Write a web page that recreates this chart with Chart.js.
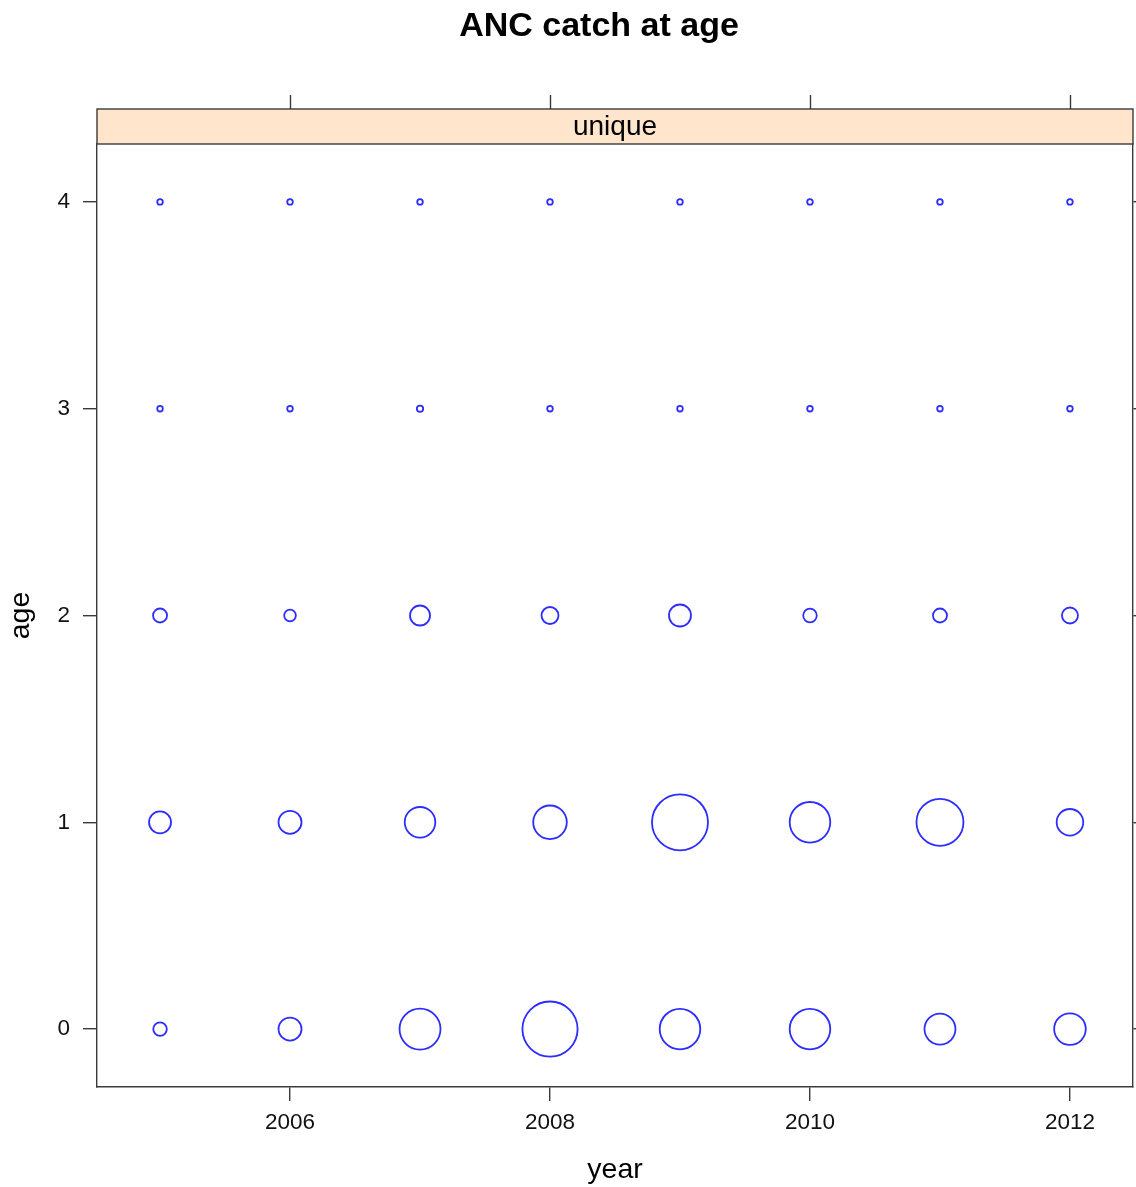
<!DOCTYPE html>
<html>
<head>
<meta charset="utf-8">
<title>ANC catch at age</title>
<script src="https://cdn.jsdelivr.net/npm/chart.js@4.4.1/dist/chart.umd.min.js"></script>
<style>
  html, body { margin: 0; padding: 0; background: #ffffff; }
  canvas { display: block; }
</style>
</head>
<body>
<canvas id="chart" width="1136" height="1187"></canvas>
<script>
// Catch at age by year (relative catch numbers)
const years = [2005, 2006, 2007, 2008, 2009, 2010, 2011, 2012];
const ages = [0, 1, 2, 3, 4];
const catchAge0 = [460, 1320, 4200, 7620, 4120, 4120, 2400, 2500];
const catchAge1 = [1210, 1320, 2340, 2820, 7840, 4120, 5520, 1770];
const catchAge2 = [490, 340, 1000, 720, 1210, 460, 490, 640];
const catchAge3 = [78, 78, 100, 78, 78, 78, 78, 78];
const catchAge4 = [78, 78, 78, 78, 78, 78, 78, 78];
const xTickValues = [2006, 2008, 2010, 2012];
const yTickValues = [0, 1, 2, 3, 4];
const stripLabel = 'unique';
const mainTitle = 'ANC catch at age';

const catchByAge = [catchAge0, catchAge1, catchAge2, catchAge3, catchAge4];

// bubble area proportional to catch
const MAX_RADIUS = 28;
const maxCatch = Math.max(...catchByAge.flat());
const radiusFor = v => MAX_RADIUS * Math.sqrt(v / maxCatch);

const points = [];
ages.forEach((age, i) => {
  years.forEach((yr, j) => {
    points.push({ x: yr, y: age, r: radiusFor(catchByAge[i][j]), v: catchByAge[i][j] });
  });
});

const FONT = '"Liberation Sans", Arial, Helvetica, sans-serif';
const AXIS_COLOR = '#3a3a3a';

// lattice-style strip, top tick marks and main title
const latticeDecor = {
  id: 'latticeDecor',
  afterDraw(chart) {
    const { ctx, chartArea, scales } = chart;
    const stripTop = chartArea.top - 35;
    ctx.save();
    // strip
    ctx.fillStyle = '#ffe5cc';
    ctx.fillRect(chartArea.left, stripTop, chartArea.right - chartArea.left, chartArea.top - stripTop);
    ctx.strokeStyle = AXIS_COLOR;
    ctx.lineWidth = 1.4;
    ctx.strokeRect(chartArea.left, stripTop, chartArea.right - chartArea.left, chartArea.top - stripTop);
    // strip text
    ctx.fillStyle = '#000';
    ctx.font = '28px ' + FONT;
    ctx.textAlign = 'center';
    ctx.textBaseline = 'middle';
    ctx.fillText(stripLabel, (chartArea.left + chartArea.right) / 2, (stripTop + chartArea.top) / 2 + 1);
    // top tick marks above the strip
    ctx.beginPath();
    xTickValues.forEach(v => {
      const px = Math.round(scales.x.getPixelForValue(v)) + 0.5;
      ctx.moveTo(px, stripTop);
      ctx.lineTo(px, stripTop - 14);
    });
    ctx.stroke();
    // main title
    ctx.font = 'bold 34px ' + FONT;
    ctx.fillText(mainTitle, 599, 27);
    ctx.restore();
  }
};

const tickSetter = values => scale => { scale.ticks = values.map(v => ({ value: v })); };

new Chart(document.getElementById('chart'), {
  type: 'bubble',
  data: {
    datasets: [{
      data: points,
      backgroundColor: 'rgba(0,0,0,0)',
      borderColor: 'rgb(45,45,255)',
      borderWidth: 1.8,
      hoverRadius: 0
    }]
  },
  options: {
    responsive: false,
    devicePixelRatio: 1,
    animation: false,
    events: [],
    layout: { autoPadding: false, padding: { top: 144, left: 0, right: 0, bottom: 0 } },
    plugins: { legend: { display: false }, tooltip: { enabled: false }, title: { display: false } },
    scales: {
      x: {
        type: 'linear',
        position: 'bottom',
        min: 2004.515,
        max: 2012.485,
        afterBuildTicks: tickSetter(xTickValues),
        afterFit: s => { s.height = 100; },
        grid: { drawOnChartArea: false, drawTicks: true, tickLength: 14, color: AXIS_COLOR, lineWidth: 1.4 },
        border: { display: true, color: AXIS_COLOR, width: 1.4 },
        ticks: { font: { size: 22.5, family: FONT }, color: '#111', padding: 8, maxRotation: 0, autoSkip: false,
                 callback: v => String(v) },
        title: { display: true, text: 'year', color: '#000', font: { size: 28.5, family: FONT }, padding: { top: 0, bottom: 0 } }
      },
      y: {
        type: 'linear',
        position: 'left',
        min: -0.28,
        max: 4.28,
        afterBuildTicks: tickSetter(yTickValues),
        afterFit: s => { s.width = 97; },
        grid: { drawOnChartArea: false, drawTicks: true, tickLength: 14, color: AXIS_COLOR, lineWidth: 1.4 },
        border: { display: true, color: AXIS_COLOR, width: 1.4 },
        ticks: { font: { size: 22.5, family: FONT }, color: '#111', padding: 13, autoSkip: false,
                 callback: v => String(v) },
        title: { display: true, text: 'age', color: '#000', font: { size: 28.5, family: FONT }, padding: { top: 4, bottom: 0 } }
      },
      y2: {
        type: 'linear',
        position: 'right',
        min: -0.28,
        max: 4.28,
        afterBuildTicks: tickSetter(yTickValues),
        afterFit: s => { s.width = 3; },
        grid: { drawOnChartArea: false, drawTicks: true, tickLength: 3, color: AXIS_COLOR, lineWidth: 1.4 },
        border: { display: true, color: AXIS_COLOR, width: 1.4 },
        ticks: { display: false }
      }
    }
  },
  plugins: [latticeDecor]
});
</script>
</body>
</html>
